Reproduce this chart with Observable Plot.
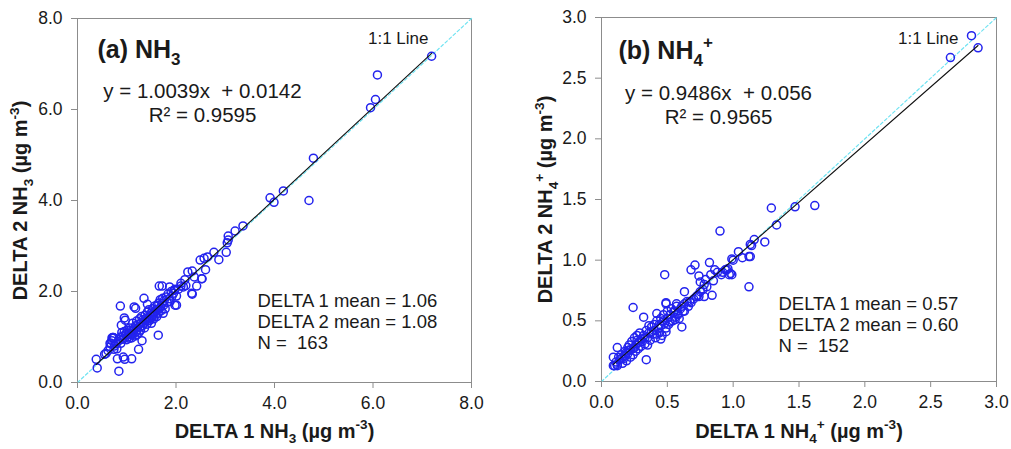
<!DOCTYPE html>
<html>
<head>
<meta charset="utf-8">
<script src="https://cdn.jsdelivr.net/npm/d3@7"></script>
<script src="https://cdn.jsdelivr.net/npm/@observablehq/plot@0.6"></script>
<style>
  html, body { margin: 0; padding: 0; background: #fff; }
  #wrap { display: flex; flex-direction: row; width: 1011px; height: 449px; }
  svg text { white-space: pre; }
</style>
</head>
<body>
<div id="wrap"></div>
<script>
// ---------- Panel (a) NH3 data: [DELTA 1, DELTA 2] in µg m-3 ----------
const nh3Delta1 = [
  7.19, 6.09, 6.05, 5.95, 4.79, 4.70, 4.18, 3.91, 3.99, 3.36, 3.20, 3.06, 3.06, 3.04, 3.02, 2.77, 2.87, 2.64, 2.57, 2.49,
  2.60, 2.53, 2.42, 2.33, 2.24, 2.37, 2.18, 2.33, 2.20, 2.01, 2.01, 2.10, 1.96, 1.87, 1.66, 1.72, 1.64, 0.87, 1.35, 1.15,
  1.18, 0.95, 0.97, 0.89, 0.72, 0.70, 0.66, 1.31, 1.24, 0.81, 0.93, 0.96, 1.10, 0.84, 0.38, 0.40, 0.58, 0.74, 1.74, 1.42,
  1.45, 1.98, 2.32, 2.52,
  0.55, 0.62, 0.66, 0.68, 0.70, 0.72, 0.74, 0.75, 0.78, 0.80, 0.82, 0.85, 0.87, 0.88, 0.90, 0.92, 0.93, 0.95, 0.96, 0.98,
  1.00, 1.01, 1.02, 1.04, 1.05, 1.06, 1.08, 1.10, 1.10, 1.12, 1.13, 1.15, 1.16, 1.18, 1.19, 1.20, 1.21, 1.22, 1.24, 1.25,
  1.26, 1.27, 1.28, 1.30, 1.30, 1.32, 1.33, 1.35, 1.36, 1.37, 1.38, 1.40, 1.41, 1.42, 1.44, 1.45, 1.46, 1.48, 1.49, 1.50,
  1.51, 1.52, 1.53, 1.55, 1.56, 1.57, 1.58, 1.60, 1.61, 1.62, 1.63, 1.64, 1.65, 1.66, 1.68, 1.69, 1.70, 1.72, 1.73, 1.75,
  1.76, 1.78, 1.80, 1.82, 1.84, 1.86, 1.88, 1.90, 1.92, 1.95, 1.98, 2.05, 2.10, 2.15, 1.55, 1.28, 1.08, 0.99, 1.12
];
const nh3Delta2 = [
  7.17, 6.76, 6.22, 6.04, 4.93, 4.00, 4.21, 4.06, 3.96, 3.44, 3.33, 3.22, 3.13, 3.07, 2.86, 2.86, 2.70, 2.76, 2.73, 2.69,
  2.48, 2.28, 2.12, 2.45, 2.43, 2.32, 2.26, 1.94, 2.13, 1.70, 1.90, 2.18, 2.03, 2.10, 2.12, 2.12, 1.04, 1.68, 1.85, 1.66,
  1.63, 1.42, 1.37, 1.26, 0.99, 0.98, 0.86, 0.92, 0.73, 0.52, 0.56, 0.51, 0.52, 0.25, 0.51, 0.32, 0.64, 0.73, 1.52, 1.72,
  1.36, 1.70, 1.96, 2.28,
  0.62, 0.70, 0.78, 0.86, 0.92, 0.99, 0.98, 0.80, 0.85, 0.74, 0.90, 0.95, 1.00, 0.86, 1.10, 0.95, 1.02, 1.12, 0.98, 1.05,
  0.94, 1.15, 1.00, 1.08, 0.97, 1.20, 1.05, 1.12, 0.98, 1.30, 1.08, 1.18, 1.02, 1.25, 1.12, 1.35, 1.05, 1.20, 1.28, 1.10,
  1.40, 1.22, 1.15, 1.32, 1.45, 1.25, 1.38, 1.30, 1.20, 1.48, 1.35, 1.42, 1.28, 1.55, 1.40, 1.60, 1.36, 1.47, 1.52, 1.30,
  1.45, 1.62, 1.50, 1.40, 1.55, 1.68, 1.48, 1.58, 1.45, 1.70, 1.60, 1.52, 1.75, 1.62, 1.82, 1.66, 1.58, 1.74, 1.85, 1.70,
  1.80, 1.62, 1.88, 1.76, 1.95, 1.84, 1.78, 2.00, 1.90, 1.96, 2.05, 2.05, 2.12, 2.10, 1.50, 1.22, 1.15, 1.08, 1.05
];

// ---------- Panel (b) NH4+ data ----------
const nh4Delta1 = [
  2.81, 2.86, 2.65, 1.62, 1.47, 1.29, 1.33, 0.90, 1.16, 1.24, 1.13, 1.14, 1.04, 1.12, 1.13, 1.07, 0.99, 1.12, 0.48, 0.71,
  0.68, 0.82, 0.74, 0.79, 0.85, 0.75, 0.84, 0.78, 0.74, 0.77, 0.86, 0.94, 0.96, 0.91, 0.99, 0.98, 0.24, 0.32, 0.61, 0.34,
  0.63, 0.49, 0.49, 0.57, 0.09, 0.12, 0.09, 0.12, 0.49, 0.45, 0.42, 0.63, 0.68, 0.73,
  0.10, 0.11, 0.12, 0.13, 0.14, 0.15, 0.16, 0.17, 0.18, 0.18, 0.19, 0.20, 0.20, 0.21, 0.22, 0.22, 0.23, 0.24, 0.24, 0.25,
  0.26, 0.26, 0.27, 0.28, 0.28, 0.29, 0.30, 0.30, 0.31, 0.32, 0.33, 0.34, 0.35, 0.36, 0.36, 0.37, 0.38, 0.39, 0.40, 0.40,
  0.41, 0.42, 0.43, 0.44, 0.45, 0.45, 0.46, 0.47, 0.48, 0.49, 0.50, 0.50, 0.51, 0.52, 0.53, 0.54, 0.55, 0.56, 0.57, 0.58,
  0.59, 0.60, 0.62, 0.63, 0.65, 0.67, 0.70, 0.72, 0.75, 0.78, 0.80, 0.83, 0.88, 0.92, 0.95, 0.97, 1.00, 0.15, 0.19, 0.25,
  0.33, 0.38, 0.44, 0.47, 0.52, 0.55, 0.58, 0.35, 0.27, 0.21, 0.42, 0.56, 0.61, 0.66
];
const nh4Delta2 = [
  2.85, 2.75, 2.67, 1.45, 1.44, 1.43, 1.29, 1.24, 1.17, 1.15, 1.13, 1.12, 1.07, 1.03, 1.03, 1.02, 1.01, 0.78, 0.88, 0.96,
  0.92, 0.98, 0.87, 0.84, 0.83, 0.82, 0.71, 0.70, 0.70, 0.76, 0.92, 0.92, 0.93, 0.88, 0.88, 0.89, 0.61, 0.53, 0.45, 0.18,
  0.74, 0.65, 0.64, 0.64, 0.20, 0.28, 0.13, 0.13, 0.41, 0.35, 0.56, 0.58, 0.65, 0.71,
  0.13, 0.16, 0.14, 0.20, 0.18, 0.22, 0.15, 0.19, 0.25, 0.21, 0.17, 0.28, 0.23, 0.30, 0.26, 0.20, 0.33, 0.27, 0.22, 0.36,
  0.30, 0.25, 0.38, 0.32, 0.27, 0.40, 0.35, 0.29, 0.33, 0.38, 0.31, 0.42, 0.36, 0.46, 0.40, 0.34, 0.45, 0.39, 0.47, 0.42,
  0.36, 0.50, 0.44, 0.40, 0.52, 0.46, 0.38, 0.55, 0.48, 0.44, 0.58, 0.52, 0.47, 0.55, 0.60, 0.50, 0.57, 0.53, 0.62, 0.56,
  0.52, 0.60, 0.58, 0.64, 0.66, 0.66, 0.68, 0.70, 0.74, 0.80, 0.78, 0.88, 0.90, 0.90, 0.92, 0.88, 1.00, 0.19, 0.24, 0.28,
  0.36, 0.41, 0.47, 0.50, 0.49, 0.58, 0.55, 0.30, 0.34, 0.26, 0.39, 0.51, 0.62, 0.62
];

// Regression-line endpoints (from the printed fits) and 1:1 line
const fitA = [{x: 0.38, y: 0.396}, {x: 7.19, y: 7.232}];
const fitB = [{x: 0.09, y: 0.141}, {x: 2.86, y: 2.769}];
const oneToOneA = [{x: 0, y: 0}, {x: 8, y: 8}];
const oneToOneB = [{x: 0, y: 0}, {x: 3, y: 3}];

// Tick values
const ticksA = [0, 2, 4, 6, 8];
const ticksB = [0, 0.5, 1, 1.5, 2, 2.5, 3];

// Text
const titleA = "(a) NH_{3}";
const titleB = "(b) NH_{4}^{+}";
const eqA = "y = 1.0039x  + 0.0142";
const r2A = "R² = 0.9595";
const eqB = "y = 0.9486x  + 0.056";
const r2B = "R² = 0.9565";
const meansA = ["DELTA 1 mean = 1.06", "DELTA 2 mean = 1.08", "N =  163"];
const meansB = ["DELTA 1 mean = 0.57", "DELTA 2 mean = 0.60", "N =  152"];
const xLabelA = "DELTA 1 NH_{3} (µg m^{-3})";
const yLabelA = "DELTA 2 NH_{3} (µg m^{-3})";
const xLabelB = "DELTA 1 NH_{4}^{+} (µg m^{-3})";
const yLabelB = "DELTA 2 NH_{4}^{+} (µg m^{-3})";
const oneLabel = "1:1 Line";

const FONT = "'Liberation Sans', Arial, Helvetica, sans-serif";
const INK = "#1a1a1a";

function makePanel(cfg) {
  const pts = cfg.x.map((v, i) => ({x: v, y: cfg.y[i]}));
  const T = (txt, opts) => Plot.text([txt], Object.assign({text: d => d, fill: INK, lineAnchor: "bottom"}, opts));
  const marks = [
    Plot.frame({stroke: "#8c8c8c", strokeWidth: 1}),
    Plot.line(cfg.one, {x: "x", y: "y", stroke: "#6fe3f2", strokeWidth: 1.2, strokeDasharray: "3,2.5"}),
    Plot.axisX({ticks: cfg.ticks, tickFormat: ".1f", tickSize: 6, tickPadding: 8, fontSize: 17.5, stroke: "#8c8c8c", fill: INK, label: null}),
    Plot.axisY({ticks: cfg.ticks, tickFormat: ".1f", tickSize: 6, tickPadding: 9, fontSize: 17.5, stroke: "#8c8c8c", fill: INK, label: null}),
    Plot.dot(pts, {x: "x", y: "y", r: 4, stroke: "#2323ee", strokeWidth: 1.5, fill: "none"}),
    Plot.line(cfg.fit, {x: "x", y: "y", stroke: "#111", strokeWidth: 1.1}),
    T(cfg.title, {frameAnchor: "top-left", textAnchor: "start", dx: cfg.titleDx, dy: cfg.titleDy, fontSize: 25, fontWeight: "bold"}),
    T(oneLabel, {frameAnchor: "top-right", textAnchor: "end", dx: cfg.oneDx, dy: cfg.oneDy, fontSize: 17}),
    T(cfg.eq, {frameAnchor: "top-left", textAnchor: "middle", dx: cfg.eqDx, dy: cfg.eqDy, fontSize: 20.5}),
    T(cfg.r2, {frameAnchor: "top-left", textAnchor: "middle", dx: cfg.eqDx, dy: cfg.eqDy + 24, fontSize: 20.5}),
    ...cfg.means.map((m, i) => T(m, {frameAnchor: "top-left", textAnchor: "start", dx: cfg.meanDx, dy: cfg.meanDy + i * 21, fontSize: 18.5})),
    T(cfg.xLabel, {frameAnchor: "bottom", textAnchor: "middle", dy: cfg.xLabDy, fontSize: 20, fontWeight: "bold"}),
    Plot.text([cfg.yLabel], {text: d => d, fill: INK, frameAnchor: "left", textAnchor: "middle", lineAnchor: "middle", rotate: -90, dx: cfg.yLabDx, fontSize: 20, fontWeight: "bold"})
  ];
  const svg = Plot.plot({
    width: cfg.width, height: 449,
    marginLeft: cfg.ml, marginRight: cfg.mr, marginTop: cfg.mt, marginBottom: cfg.mb,
    x: {domain: cfg.domain}, y: {domain: cfg.domain},
    style: {fontFamily: FONT, background: "#fff", overflow: "visible"},
    marks
  });
  richify(svg);
  return svg;
}

// Turn _{..} and ^{..} markup into subscript/superscript tspans
function richify(svg) {
  d3.select(svg).selectAll("text").each(function () {
    const el = this;
    const raw = el.textContent;
    if (!/[_^]\{/.test(raw)) return;
    let fs = parseFloat(el.getAttribute("font-size") || (el.parentNode && el.parentNode.getAttribute("font-size")) || getComputedStyle(el).fontSize) || 16;
    const parts = [];
    const re = /([_^])\{([^}]*)\}/g;
    let last = 0, m;
    while ((m = re.exec(raw))) {
      if (m.index > last) parts.push({t: raw.slice(last, m.index), k: "n"});
      parts.push({t: m[2], k: m[1] === "_" ? "sub" : "sup"});
      last = re.lastIndex;
    }
    if (last < raw.length) parts.push({t: raw.slice(last), k: "n"});
    el.textContent = "";
    let cur = 0;
    parts.forEach(p => {
      const target = p.k === "sub" ? 0.28 * fs : p.k === "sup" ? -0.42 * fs : 0;
      const ts = d3.select(el).append("tspan").text(p.t);
      if (target !== cur) ts.attr("dy", (target - cur).toFixed(2));
      if (p.k !== "n") ts.attr("font-size", (0.68 * fs).toFixed(2));
      cur = target;
    });
  });
}

const wrap = document.getElementById("wrap");
wrap.appendChild(makePanel({
  width: 505, ml: 77, mr: 34, mt: 18, mb: 67,
  domain: [0, 8], ticks: ticksA, x: nh3Delta1, y: nh3Delta2, fit: fitA, one: oneToOneA,
  title: titleA, titleDx: 20, titleDy: 39,
  oneDx: -43, oneDy: 25,
  eq: eqA, r2: r2A, eqDx: 125, eqDy: 79,
  means: meansA, meanDx: 180, meanDy: 288,
  xLabel: xLabelA, xLabDy: 55, yLabel: yLabelA, yLabDx: -57
}));
wrap.appendChild(makePanel({
  width: 506, ml: 96, mr: 15, mt: 17, mb: 68,
  domain: [0, 3], ticks: ticksB, x: nh4Delta1, y: nh4Delta2, fit: fitB, one: oneToOneB,
  title: titleB, titleDx: 17, titleDy: 41,
  oneDx: -38, oneDy: 26,
  eq: eqB, r2: r2B, eqDx: 117, eqDy: 82,
  means: meansB, meanDx: 177, meanDy: 292,
  xLabel: xLabelB, xLabDy: 56, yLabel: yLabelB, yLabDx: -56
}));
</script>
</body>
</html>
